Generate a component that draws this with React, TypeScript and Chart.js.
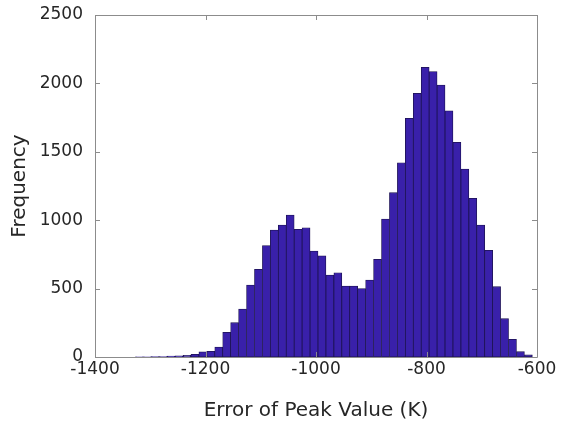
import React, { useEffect, useRef } from "react";
import { Chart, registerables } from "chart.js";

Chart.register(...registerables);

// Histogram bins (left edge of first bin and bin width, in K)
const binStart = -1326.9;
const binWidth = 14.37;
const frequencies = [
  2, 2, 3, 3, 6, 8, 12, 20, 38, 42,
  72, 180, 251, 351, 526, 641, 814, 928, 965, 1038,
  933, 945, 775, 740, 599, 616, 519, 519, 500, 563,
  714, 1009, 1201, 1420, 1745, 1928, 2118, 2086, 1988, 1800,
  1569, 1374, 1160, 965, 780, 514, 280, 129, 39, 15,
];
const xTicks = [-1400, -1200, -1000, -800, -600];
const yTicks = [0, 500, 1000, 1500, 2000, 2500];
const xLabel = "Error of Peak Value (K)";
const yLabel = "Frequency";

const AXIS_COLOR = "#8c8c8c";
const TEXT_COLOR = "#262626";
const FONT = "'DejaVu Sans', 'Liberation Sans', Arial, sans-serif";

const boxPlugin = {
  id: "matlabBox",
  afterDraw(chart: any) {
    const { ctx, chartArea: a, scales } = chart;
    const xs = scales.x;
    const ys = scales.y;
    const len = 5;
    ctx.save();
    ctx.strokeStyle = AXIS_COLOR;
    ctx.lineWidth = 1;
    ctx.beginPath();
    ctx.rect(Math.round(a.left) + 0.5, Math.round(a.top) + 0.5, Math.round(a.right - a.left), Math.round(a.bottom - a.top));
    ctx.stroke();
    ctx.beginPath();
    xTicks.forEach((v) => {
      const px = Math.round(xs.getPixelForValue(v)) + 0.5;
      ctx.moveTo(px, a.bottom);
      ctx.lineTo(px, a.bottom - len);
      ctx.moveTo(px, a.top);
      ctx.lineTo(px, a.top + len);
    });
    yTicks.forEach((v) => {
      const py = Math.round(ys.getPixelForValue(v)) + 0.5;
      ctx.moveTo(a.left, py);
      ctx.lineTo(a.left + len, py);
      ctx.moveTo(a.right, py);
      ctx.lineTo(a.right - len, py);
    });
    ctx.stroke();
    ctx.restore();
  },
};

export default function App() {
  const ref = useRef<HTMLCanvasElement | null>(null);

  useEffect(() => {
    if (!ref.current) return;
    const data = frequencies.map((y, i) => ({ x: binStart + binWidth * (i + 0.5), y }));
    const chart = new Chart(ref.current, {
      type: "bar",
      data: {
        datasets: [
          {
            data: data as any,
            backgroundColor: "#3920aa",
            borderColor: "#1c1250",
            borderWidth: 0.8,
            barPercentage: 1,
            categoryPercentage: 1,
            borderSkipped: false,
          },
        ],
      },
      options: {
        animation: false,
        responsive: false,
        maintainAspectRatio: false,
        devicePixelRatio: 1,
        layout: { padding: { left: 0, top: 15, right: 24, bottom: 0 } },
        plugins: {
          legend: { display: false },
          tooltip: { enabled: false },
        },
        scales: {
          x: {
            type: "linear",
            min: -1400,
            max: -600,
            offset: false,
            afterFit: (s: any) => {
              s.height = 70;
              s.paddingLeft = 0;
              s.paddingRight = 0;
            },
            afterBuildTicks: (s: any) => {
              s.ticks = xTicks.map((v) => ({ value: v }));
            },
            ticks: {
              color: TEXT_COLOR,
              font: { family: FONT, size: 17 },
              padding: 2,
              maxRotation: 0,
              autoSkip: false,
              callback: (v: any) => String(v),
            },
            grid: { display: false, drawTicks: false },
            border: { display: false },
            title: {
              display: true,
              text: xLabel,
              color: TEXT_COLOR,
              font: { family: FONT, size: 20 },
              padding: { top: 0, bottom: 4 },
            },
          },
          y: {
            type: "linear",
            min: 0,
            max: 2500,
            afterFit: (s: any) => {
              s.width = 95;
              s.paddingTop = 0;
              s.paddingBottom = 0;
            },
            afterBuildTicks: (s: any) => {
              s.ticks = yTicks.map((v) => ({ value: v }));
            },
            ticks: {
              color: TEXT_COLOR,
              font: { family: FONT, size: 17 },
              padding: 12,
              autoSkip: false,
              callback: (v: any) => String(v),
            },
            grid: { display: false, drawTicks: false },
            border: { display: false },
            title: {
              display: true,
              text: yLabel,
              color: TEXT_COLOR,
              font: { family: FONT, size: 20 },
              padding: { top: 8, bottom: 0 },
            },
          },
        },
      },
      plugins: [boxPlugin],
    });
    return () => chart.destroy();
  }, []);

  return (
    <div style={{ position: "fixed", left: 0, top: 0, width: 561, height: 427, background: "#fff" }}>
      <canvas ref={ref} width={561} height={427} style={{ display: "block", width: 561, height: 427 }} />
    </div>
  );
}
